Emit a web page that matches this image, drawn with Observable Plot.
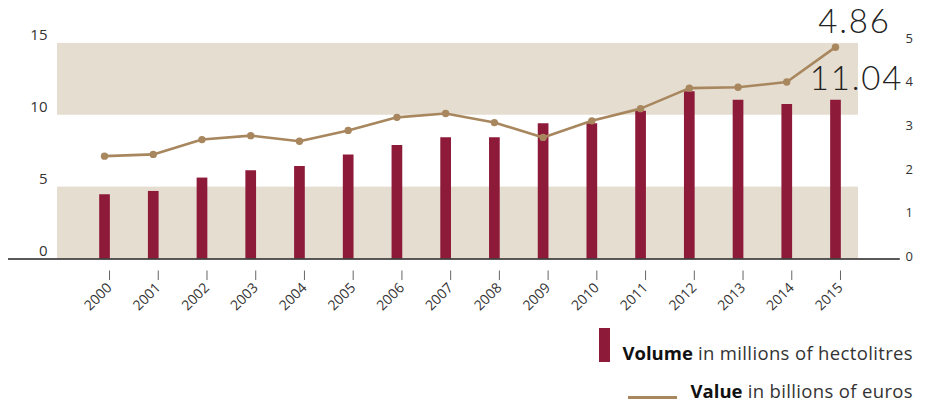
<!DOCTYPE html>
<html>
<head>
<meta charset="utf-8">
<script src="https://cdn.jsdelivr.net/npm/d3@7"></script>
<script src="https://cdn.jsdelivr.net/npm/@observablehq/plot@0.6"></script>
<style>
  body { margin: 0; background: #fff; font-family: "Open Sans", sans-serif; }
  #wrap { width: 927px; height: 406px; position: relative; overflow: hidden; }
  .legend { width: 927px; box-sizing: border-box; padding-right: 14px; color: #333; font-size: 18.5px; letter-spacing: 0.35px; }
  .row { display: flex; justify-content: flex-end; align-items: flex-end; }
  .row b { color: #111; font-weight: 700; letter-spacing: 0; }
  .sw-bar { width: 11px; height: 34px; background: #8e1a3a; margin-right: 12px; }
  .sw-line { width: 49px; height: 2.8px; background: #a8875f; margin-right: 14px; margin-bottom: 2.4px; }
  .txt { line-height: 20px; white-space: nowrap; }
</style>
</head>
<body>
<div id="wrap">
  <div id="chart"></div>
  <div class="legend">
    <div class="row" style="margin-top:10px;height:34px;"><div class="sw-bar"></div><div class="txt" style="margin-bottom:-1px;"><b>Volume</b> in millions of hectolitres</div></div>
    <div class="row" style="margin-top:19px;"><div class="sw-line"></div><div class="txt"><b>Value</b> in billions of euros</div></div>
  </div>
</div>
<script>
// Data
const years  = [2000, 2001, 2002, 2003, 2004, 2005, 2006, 2007, 2008, 2009, 2010, 2011, 2012, 2013, 2014, 2015];
const volume = [4.47, 4.70, 5.63, 6.14, 6.44, 7.23, 7.90, 8.44, 8.44, 9.41, 9.41, 10.27, 11.64, 11.04, 10.74, 11.04]; // millions of hectolitres
const value  = [2.36, 2.40, 2.74, 2.83, 2.70, 2.95, 3.25, 3.34, 3.13, 2.79, 3.17, 3.45, 3.92, 3.94, 4.06, 4.86];     // billions of euros
const leftTicks  = [0, 5, 10, 15];
const rightTicks = [0, 1, 2, 3, 4, 5];
const bandRanges = [[0, 5], [10, 15]];

const K = 3.032; // ratio between the left (volume) and right (value) axes
const rows = years.map((y, i) => ({year: y, volume: volume[i], value: value[i], v: value[i] * K}));
const bands = bandRanges.map(([a, b]) => ({y1: a, y2: b}));
const last = rows[rows.length - 1];

const BAR = "#8e1a3a", LINE = "#a8875f", BAND = "#e5ddd0";

const chart = Plot.plot({
  width: 927,
  height: 318,
  marginLeft: 57,
  marginRight: 69,
  marginTop: 40,
  marginBottom: 59.5,
  style: {fontFamily: "'Open Sans', sans-serif", color: "#333", background: "transparent", overflow: "visible"},
  x: {type: "linear", domain: [1999.035, 2015.472], label: null},
  y: {domain: [0, 15.2], label: null},
  marks: [
    Plot.rectY(bands, {y1: "y1", y2: "y2", fill: BAND}),
    Plot.ruleX(rows, {x: "year", y: "volume", stroke: BAR, strokeWidth: 10.7}),
    Plot.ruleY([0], {x1: 1998.03, x2: 2016.33, stroke: "#222", strokeWidth: 1.3}),
    Plot.line(rows, {x: "year", y: "v", stroke: LINE, strokeWidth: 2.6}),
    Plot.dot(rows, {x: "year", y: "v", r: 3.7, fill: LINE}),
    Plot.axisY(leftTicks, {anchor: "left", label: null, tickSize: 0, tickPadding: 10, dy: -8, fontSize: 15, fill: "#333"}),
    Plot.axisY(rightTicks.map(d => d * K), {anchor: "right", label: null, tickSize: 0, tickPadding: 47, dy: -2.5, fontSize: 13, fill: "#333",
      tickFormat: d => String(Math.round(d / K))}),
    Plot.axisX(years, {label: null, tickSize: 9.5, tickPadding: 5, tickRotate: -45, dx: 5, dy: 12, fontSize: 14, fill: "#333", stroke: "#666",
      tickFormat: d => String(d)}),
    Plot.text([last], {x: "year", y: "v", text: d => d.value.toFixed(2), dx: 19, dy: -25,
      fontSize: 33, fontFamily: "Lato", fontWeight: 300, fill: "#222"}),
    Plot.text([last], {x: "year", y: "volume", text: d => d.volume.toFixed(2), dx: 21, dy: -21,
      fontSize: 33, fontFamily: "Lato", fontWeight: 300, fill: "#222"})
  ]
});
d3.select(chart).selectAll("text").filter(function() {
  return this.textContent === last.value.toFixed(2) || this.textContent === last.volume.toFixed(2);
}).attr("letter-spacing", "1.8px");
document.getElementById("chart").appendChild(chart);
</script>
</body>
</html>
